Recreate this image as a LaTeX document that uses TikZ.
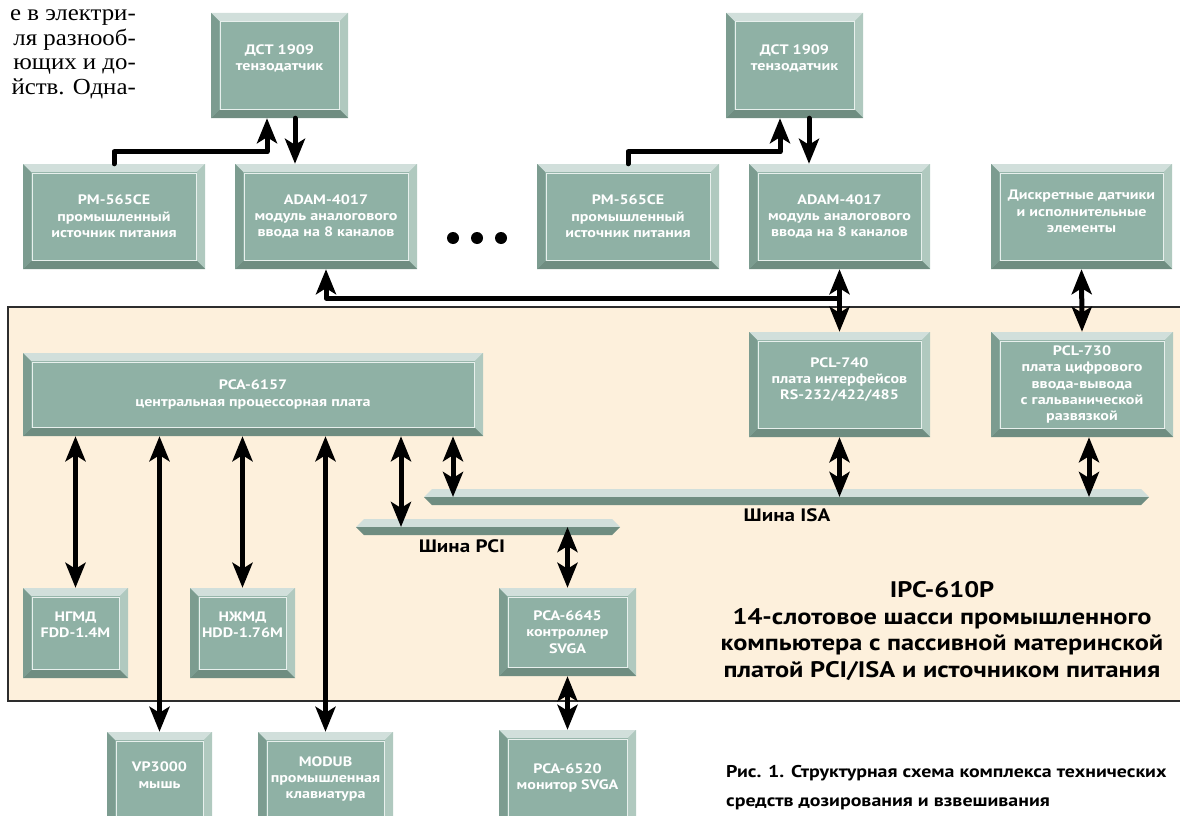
\documentclass[tikz,border=0pt]{standalone}
\usepackage{fontspec}
\setmainfont{PT Sans}[FakeStretch=1.17]
\newfontfamily\bodyserif{Liberation Serif}[FakeStretch=1.08]
\usetikzlibrary{arrows.meta, positioning, calc}
\definecolor{BoxFace}{RGB}{143,177,165}
\definecolor{BevelTop}{RGB}{209,223,219}
\definecolor{BevelRight}{RGB}{176,201,191}
\definecolor{BevelLeft}{RGB}{124,156,144}
\definecolor{BevelBottom}{RGB}{111,141,129}
\definecolor{BoxLine}{RGB}{232,240,237}
\definecolor{ChassisFill}{RGB}{253,240,220}
\definecolor{ChassisLine}{RGB}{45,45,45}

\begin{document}
\begin{tikzpicture}[x=1pt,y=-1pt,
        blok/.style 2 args={rectangle,fill=BoxFace,inner sep=0pt,
                   minimum width=#1pt,minimum height=#2pt,align=center,
                   text=white,font=\bfseries\fontsize{13.7}{16.3}\selectfont,
                   path picture={
                     \coordinate (oNW) at (path picture bounding box.north west);
                     \coordinate (oNE) at (path picture bounding box.north east);
                     \coordinate (oSE) at (path picture bounding box.south east);
                     \coordinate (oSW) at (path picture bounding box.south west);
                     \coordinate (iNW) at ([shift={(8pt,-8pt)}]oNW);
                     \coordinate (iNE) at ([shift={(-8pt,-8pt)}]oNE);
                     \coordinate (iSE) at ([shift={(-8pt,8pt)}]oSE);
                     \coordinate (iSW) at ([shift={(8pt,8pt)}]oSW);
                     \fill[BevelTop] (oNW)--(oNE)--(iNE)--(iNW)--cycle;
                     \fill[BevelRight] (oNE)--(oSE)--(iSE)--(iNE)--cycle;
                     \fill[BevelBottom] (oSW)--(oSE)--(iSE)--(iSW)--cycle;
                     \fill[BevelLeft] (oNW)--(oSW)--(iSW)--(iNW)--cycle;
                     \draw[BoxLine,line width=1pt]
                       ([shift={(1pt,-1pt)}]iNW) rectangle ([shift={(-1pt,1pt)}]iSE);
                   }},
        hoch/.style={text depth=#1},
        shina/.style 2 args={rectangle,fill=ChassisFill,inner sep=0pt,
                   minimum width=#1pt,minimum height=#2pt,
                   path picture={
                     \coordinate (sW) at (path picture bounding box.west);
                     \coordinate (sE) at (path picture bounding box.east);
                     \coordinate (sNW) at (path picture bounding box.north west);
                     \coordinate (sNE) at (path picture bounding box.north east);
                     \coordinate (sSW) at (path picture bounding box.south west);
                     \coordinate (sSE) at (path picture bounding box.south east);
                     \fill[BevelTop] (sW)--([xshift=8pt]sNW)--([xshift=-8pt]sNE)--(sE)--cycle;
                     \fill[BevelBottom] (sW)--([xshift=8pt]sSW)--([xshift=-8pt]sSE)--(sE)--cycle;
                   }},
        lbl/.style={font=\bfseries\fontsize{18}{20}\selectfont,inner sep=0pt},
        arr/.style={-{Stealth[length=25pt,width=20pt,inset=6pt]},
                    line width=5pt,line cap=round,line join=round},
        darr/.style={{Stealth[length=25pt,width=20pt,inset=6pt]}-{Stealth[length=25pt,width=20pt,inset=6pt]},
                    line width=5pt}
      ]
        \useasboundingbox (0,0) rectangle (1180,816);
        \fill[ChassisFill] (8,307) rectangle (1185,701);
        \draw[ChassisLine,line width=1.5pt] (1185,307)--(8,307)--(8,701)--(1185,701);

        \node[anchor=north east,align=right,inner sep=0pt,
              font={\bodyserif\fontsize{23}{24.5}\selectfont}] (fliess) at (136,9.5)
          {е в электри-\\ля разнооб-\\ющих и до-\\йств. Одна-};

        \node[blok={137}{105},hoch=16pt] (dstA) at (279.5,65.5) {ДСТ 1909\\тензодатчик};
        \node[blok={182}{105}] (pmA) at (114,216.5) {PM-565CE\\промышленный\\источник питания};
        \node[blok={182}{105}] (adamA) at (326,216.5) {ADAM-4017\\модуль аналогового\\ввода на 8 каналов};
        \node[blok={137}{105},hoch=16pt] (dstB) at (794.5,65.5) {ДСТ 1909\\тензодатчик};
        \node[blok={182}{105}] (pmB) at (628,216.5) {PM-565CE\\промышленный\\источник питания};
        \node[blok={181}{105}] (adamB) at (839.5,216.5) {ADAM-4017\\модуль аналогового\\ввода на 8 каналов};
        \node[blok={181}{105},hoch=10pt] (disk) at (1081.5,216.5) {Дискретные датчики\\и исполнительные\\элементы};
        \fill (453,238) circle (6pt) (477,238) circle (6pt) (501,238) circle (6pt);

        \node[blok={460}{83}] (pca6157) at (253,394.5) {PCA-6157\\центральная процессорная плата};
        \node[blok={181}{105},hoch=12pt] (pcl740) at (839.5,384.5) {PCL-740\\плата интерфейсов\\RS-232/422/485};
        \node[blok={182}{105}] (pcl730) at (1082,384.5) {PCL-730\\плата цифрового\\ввода-вывода\\с гальванической\\развязкой};
        \node[shina={725}{16}] (isa) at (786.5,497) {};
        \node[shina={264}{16}] (pci) at (488,527) {};
        \node[lbl] (isaT) at (787,515) {Шина ISA};
        \node[lbl] (pciT) at (462,546) {Шина PCI};
        \node[blok={105}{90},hoch=16pt] (ngmd) at (75.5,633) {НГМД\\FDD-1.4M};
        \node[blok={105}{90},hoch=16pt] (nzhmd) at (242.5,633) {НЖМД\\HDD-1.76M};
        \node[blok={137}{88}] (pca6645) at (567.5,632) {PCA-6645\\контроллер\\SVGA};
        \node[blok={105}{94},hoch=8pt] (vp3000) at (159.5,779) {VP3000\\мышь};
        \node[blok={135}{94}] (modub) at (325.5,779) {MODUB\\промышленная\\клавиатура};
        \node[blok={137}{96}] (pca6520) at (567.5,778) {PCA-6520\\монитор SVGA};

        \node[align=center,inner sep=0pt,font=\bfseries\fontsize{22.5}{26.7}\selectfont] (ipc) at (942,631)
          {IPC-610P\\14-слотовое шасси промышленного\\компьютера с пассивной материнской\\платой PCI/ISA и источником питания};
        \node[anchor=west,align=left,inner sep=0pt,font=\bfseries\fontsize{17}{29}\selectfont] (caption) at (726,787.5)
          {Рис. 1. Структурная схема комплекса технических\\средств дозирования и взвешивания};

        \draw[arr] (pmA.north)--++(0,-12)-|([xshift=-12.5pt]dstA.south);
        \draw[arr] ([xshift=15.5pt]dstA.south)--([xshift=15.5pt]dstA.south |- adamA.north);
        \draw[arr] (pmB.north)--++(0,-12)-|([xshift=-14.5pt]dstB.south);
        \draw[arr] ([xshift=14.5pt]dstB.south)--([xshift=14.5pt]dstB.south |- adamB.north);
        \coordinate (knot) at (0,298);
        \draw[arr] (adamB.south |- knot)-|(adamA.south);
        \draw[darr] (adamB.south)--(pcl740.north);
        \draw[darr] (disk.south)--(pcl730.north);

        \draw[darr] (pca6157.south -| ngmd.north)--(ngmd.north);
        \draw[darr] (pca6157.south -| vp3000.north)--(vp3000.north);
        \draw[darr] (pca6157.south -| nzhmd.north)--(nzhmd.north);
        \draw[darr] (pca6157.south -| modub.north)--(modub.north);
        \draw[darr] ([xshift=148pt]pca6157.south)--([xshift=148pt]pca6157.south |- pci.center);
        \draw[darr] ([xshift=200pt]pca6157.south)--([xshift=200pt]pca6157.south |- isa.center);
        \draw[darr] (pcl740.south)--(pcl740.south |- isa.center);
        \draw[darr] ([xshift=7pt]pcl730.south)--([xshift=7pt]pcl730.south |- isa.center);
        \draw[darr] (pca6645.north |- pci.center)--(pca6645.north);
        \draw[darr] (pca6645.south)--(pca6520.north);
      \end{tikzpicture}
\end{document}
